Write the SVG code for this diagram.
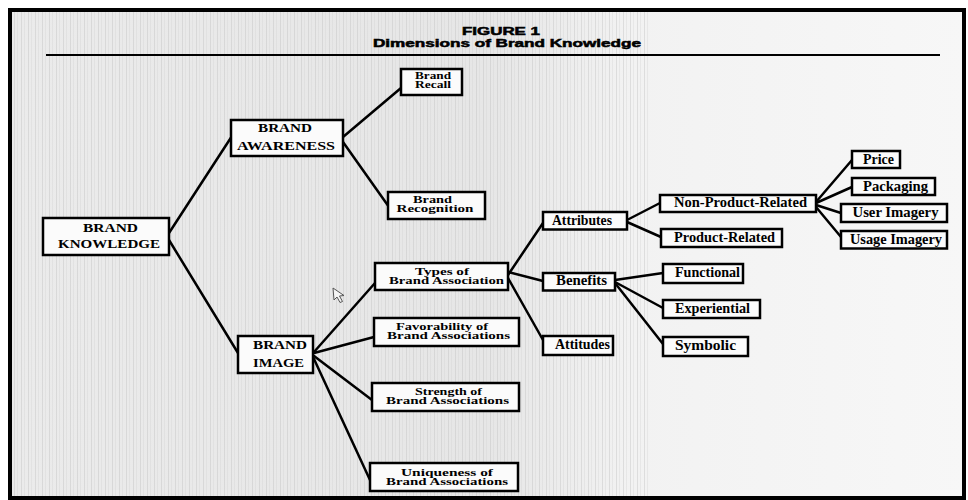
<svg xmlns="http://www.w3.org/2000/svg" width="968" height="500" viewBox="0 0 968 500">
  <defs>
    <linearGradient id="bg" x1="0" y1="0" x2="1" y2="0">
      <stop offset="0" stop-color="#ebebeb"/>
      <stop offset="0.5" stop-color="#e6e6e6"/>
      <stop offset="0.65" stop-color="#f2f2f2"/>
      <stop offset="1" stop-color="#f7f7f7"/>
    </linearGradient>
    <pattern id="stripes" width="7" height="10" patternUnits="userSpaceOnUse">
      <rect x="0" y="0" width="1" height="10" fill="#c4c4c4" opacity="0.45"/>
      <rect x="3" y="0" width="1" height="10" fill="#d0d0d0" opacity="0.35"/>
    </pattern>
  </defs>
  <style>
    .box { fill: #fbfbfb; stroke: #000; stroke-width: 2.5; }
    .edge { stroke: #000; stroke-width: 2.5; fill: none; stroke-linecap: round; }
    .t { font-family: "Liberation Serif", "Times New Roman", serif; font-weight: bold; fill: #000; text-anchor: middle; }
    .cap { font-size: 13px; }
    .two { font-size: 10px; }
    .one { font-size: 14px; }
    .ttl { font-family: "Liberation Sans", Arial, sans-serif; font-weight: bold; font-size: 10.5px; fill: #000; stroke: #000; stroke-width: 0.5; text-anchor: middle; }
  </style>

  <rect x="0" y="0" width="968" height="500" fill="#ffffff"/>
  <rect x="10" y="10" width="954" height="488" fill="url(#bg)"/>
  <rect x="10" y="10" width="640" height="488" fill="url(#stripes)"/>
  <rect x="10" y="10" width="954" height="488" fill="none" stroke="#000" stroke-width="4"/>

  <g id="title">
    <text class="ttl" x="501" y="34.5" textLength="78" lengthAdjust="spacingAndGlyphs">FIGURE 1</text>
    <text class="ttl" x="507" y="47" textLength="268" lengthAdjust="spacingAndGlyphs">Dimensions of Brand Knowledge</text>
    <line x1="46" y1="55" x2="940" y2="55" stroke="#000" stroke-width="2"/>
  </g>

  <g id="connectors">
    <line class="edge" x1="169" y1="233" x2="232" y2="136"/>
    <line class="edge" x1="169" y1="240" x2="238" y2="353"/>
    <line class="edge" x1="343" y1="137" x2="401" y2="88"/>
    <line class="edge" x1="343" y1="142" x2="389" y2="207"/>
    <line class="edge" x1="314" y1="352" x2="375" y2="283"/>
    <line class="edge" x1="314" y1="353" x2="374" y2="337"/>
    <line class="edge" x1="314" y1="356" x2="372" y2="400"/>
    <line class="edge" x1="314" y1="359" x2="370" y2="480"/>
    <line class="edge" x1="508" y1="275" x2="543" y2="223"/>
    <line class="edge" x1="508" y1="272" x2="543" y2="281"/>
    <line class="edge" x1="508" y1="278" x2="543" y2="340"/>
    <line class="edge" x1="627" y1="220" x2="660" y2="203"/>
    <line class="edge" x1="627" y1="222" x2="661" y2="237"/>
    <line class="edge" x1="615" y1="280" x2="663" y2="273"/>
    <line class="edge" x1="615" y1="282" x2="663" y2="308"/>
    <line class="edge" x1="615" y1="283" x2="663" y2="344"/>
    <line class="edge" x1="816" y1="202" x2="852" y2="160"/>
    <line class="edge" x1="816" y1="203" x2="852" y2="187"/>
    <line class="edge" x1="816" y1="205" x2="841" y2="213"/>
    <line class="edge" x1="816" y1="207" x2="841" y2="237"/>
  </g>

  <g id="brand-knowledge">
    <rect class="box" x="43" y="218" width="126" height="37"/>
    <text class="t cap" x="110.5" y="232" textLength="55" lengthAdjust="spacingAndGlyphs">BRAND</text>
    <text class="t cap" x="109" y="248" textLength="102" lengthAdjust="spacingAndGlyphs">KNOWLEDGE</text>
  </g>

  <g id="brand-awareness">
    <rect class="box" x="231" y="120" width="112" height="36"/>
    <text class="t cap" x="285" y="132" textLength="54" lengthAdjust="spacingAndGlyphs">BRAND</text>
    <text class="t cap" x="286" y="150" textLength="98" lengthAdjust="spacingAndGlyphs">AWARENESS</text>
  </g>

  <g id="brand-recall">
    <rect class="box" x="401" y="69" width="61" height="26"/>
    <text class="t two" x="433" y="78.5" textLength="36" lengthAdjust="spacingAndGlyphs">Brand</text>
    <text class="t two" x="433" y="88" textLength="36" lengthAdjust="spacingAndGlyphs">Recall</text>
  </g>

  <g id="brand-recognition">
    <rect class="box" x="388" y="192" width="97" height="27"/>
    <text class="t two" x="432.5" y="202.5" textLength="39" lengthAdjust="spacingAndGlyphs">Brand</text>
    <text class="t two" x="435" y="212" textLength="77" lengthAdjust="spacingAndGlyphs">Recognition</text>
  </g>

  <g id="brand-image">
    <rect class="box" x="238" y="336" width="75" height="37"/>
    <text class="t cap" x="280" y="349" textLength="54" lengthAdjust="spacingAndGlyphs">BRAND</text>
    <text class="t cap" x="278.5" y="367" textLength="51" lengthAdjust="spacingAndGlyphs">IMAGE</text>
  </g>

  <g id="types-of-brand-association">
    <rect class="box" x="375" y="263" width="133" height="27"/>
    <text class="t two" x="442" y="274.5" textLength="54" lengthAdjust="spacingAndGlyphs">Types of</text>
    <text class="t two" x="446.5" y="284" textLength="115" lengthAdjust="spacingAndGlyphs">Brand Association</text>
  </g>

  <g id="favorability">
    <rect class="box" x="374" y="318" width="145" height="28"/>
    <text class="t two" x="442" y="329.5" textLength="92" lengthAdjust="spacingAndGlyphs">Favorability of</text>
    <text class="t two" x="448.5" y="339" textLength="123" lengthAdjust="spacingAndGlyphs">Brand Associations</text>
  </g>

  <g id="strength">
    <rect class="box" x="372" y="383" width="147" height="28"/>
    <text class="t two" x="448.5" y="394.5" textLength="67" lengthAdjust="spacingAndGlyphs">Strength of</text>
    <text class="t two" x="447.5" y="404" textLength="123" lengthAdjust="spacingAndGlyphs">Brand Associations</text>
  </g>

  <g id="uniqueness">
    <rect class="box" x="370" y="463" width="148" height="28"/>
    <text class="t two" x="447" y="475.5" textLength="92" lengthAdjust="spacingAndGlyphs">Uniqueness of</text>
    <text class="t two" x="447" y="485" textLength="122" lengthAdjust="spacingAndGlyphs">Brand Associations</text>
  </g>

  <g id="attributes">
    <rect class="box" x="543" y="212" width="84" height="17.5"/>
    <text class="t one" x="582" y="224.5" textLength="60" lengthAdjust="spacingAndGlyphs">Attributes</text>
  </g>

  <g id="benefits">
    <rect class="box" x="543" y="273" width="72" height="17.5"/>
    <text class="t one" x="581.5" y="285" textLength="51" lengthAdjust="spacingAndGlyphs">Benefits</text>
  </g>

  <g id="attitudes">
    <rect class="box" x="543" y="336" width="70" height="19"/>
    <text class="t one" x="582.5" y="348.5" textLength="55" lengthAdjust="spacingAndGlyphs">Attitudes</text>
  </g>

  <g id="non-product-related">
    <rect class="box" x="660" y="195" width="156" height="17"/>
    <text class="t one" x="740.5" y="207" textLength="133" lengthAdjust="spacingAndGlyphs">Non-Product-Related</text>
  </g>

  <g id="product-related">
    <rect class="box" x="661" y="229" width="121" height="18"/>
    <text class="t one" x="724.5" y="242" textLength="101" lengthAdjust="spacingAndGlyphs">Product-Related</text>
  </g>

  <g id="functional">
    <rect class="box" x="663" y="264" width="80" height="19"/>
    <text class="t one" x="707.5" y="277" textLength="65" lengthAdjust="spacingAndGlyphs">Functional</text>
  </g>

  <g id="experiential">
    <rect class="box" x="663" y="300" width="97" height="18"/>
    <text class="t one" x="712.5" y="312.5" textLength="75" lengthAdjust="spacingAndGlyphs">Experiential</text>
  </g>

  <g id="symbolic">
    <rect class="box" x="663" y="337" width="85" height="19"/>
    <text class="t one" x="705.5" y="350" textLength="61" lengthAdjust="spacingAndGlyphs">Symbolic</text>
  </g>

  <g id="price">
    <rect class="box" x="852" y="151" width="48" height="17"/>
    <text class="t one" x="878.5" y="163.5" textLength="31" lengthAdjust="spacingAndGlyphs">Price</text>
  </g>

  <g id="packaging">
    <rect class="box" x="852" y="178" width="83" height="17"/>
    <text class="t one" x="895.5" y="190.5" textLength="65" lengthAdjust="spacingAndGlyphs">Packaging</text>
  </g>

  <g id="user-imagery">
    <rect class="box" x="841" y="204" width="106" height="18"/>
    <text class="t one" x="895.5" y="216.5" textLength="86" lengthAdjust="spacingAndGlyphs">User Imagery</text>
  </g>

  <g id="usage-imagery">
    <rect class="box" x="841" y="231" width="106" height="17.5"/>
    <text class="t one" x="896" y="243.5" textLength="92" lengthAdjust="spacingAndGlyphs">Usage Imagery</text>
  </g>

  <polygon points="333,288 334,300 337,297 340,302.5 342.5,301.5 339.5,296 344,295.5" fill="#f4f4f4" stroke="#555" stroke-width="1"/>
</svg>
